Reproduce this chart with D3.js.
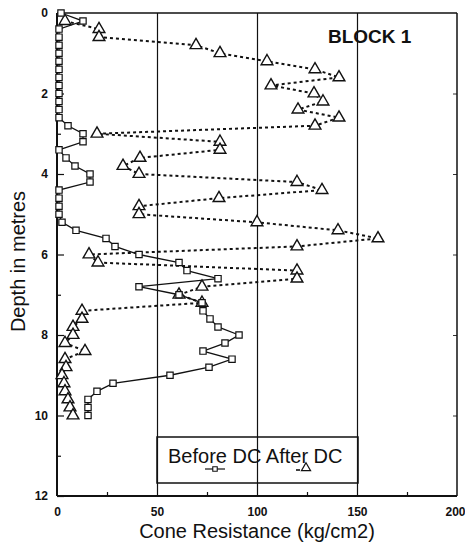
<!DOCTYPE html>
<html>
<head>
<meta charset="utf-8">
<script src="https://cdn.jsdelivr.net/npm/d3@7"></script>
<style>
  html, body { margin: 0; padding: 0; background: #fff; }
  svg { display: block; font-family: "Liberation Sans", Arial, Helvetica, sans-serif; }
</style>
</head>
<body>
<svg id="chart" width="465" height="546"></svg>
<script>
// ---- data ----
const beforeDepth = [0.0, 0.2, 0.4, 0.6, 0.8, 1.0, 1.2, 1.4, 1.6, 1.8, 2.0, 2.2, 2.4, 2.6, 2.8, 3.0, 3.2, 3.4, 3.6, 3.8,
  4.0, 4.2, 4.4, 4.6, 4.8, 5.0, 5.2, 5.4, 5.6, 5.8, 6.0, 6.2, 6.4, 6.6, 6.8, 7.0, 7.2, 7.4, 7.6, 7.8,
  8.0, 8.2, 8.4, 8.6, 8.8, 9.0, 9.2, 9.4, 9.6, 9.8, 10.0];
const beforeCone = [2, 13, 1, 1, 1, 1, 1, 1, 1, 1, 1, 1, 1, 1, 5.5, 13, 13, 1, 4.5, 9,
  16.5, 16.5, 1, 1, 1, 1, 2.5, 9.5, 24.5, 29, 41, 61, 65, 80.5, 41, 61, 72.5, 73, 76.5, 80.5,
  91, 84, 73, 87.5, 76, 56.5, 28, 20, 15.5, 15.5, 15.5];

const afterDepth = [0.2, 0.4, 0.6, 0.8, 1.0, 1.2, 1.4, 1.6, 1.8, 2.0, 2.2, 2.4, 2.6, 2.8, 3.0, 3.2, 3.4, 3.6, 3.8,
  4.0, 4.2, 4.4, 4.6, 4.8, 5.0, 5.2, 5.4, 5.6, 5.8, 6.0, 6.2, 6.4, 6.6, 6.8, 7.0, 7.2, 7.4, 7.6, 7.8,
  8.0, 8.2, 8.4, 8.6, 8.8, 9.0, 9.2, 9.4, 9.6, 9.8, 10.0];
const afterCone = [4, 21, 21, 69.5, 81.5, 105, 129, 141, 107, 128.5, 133, 120.5, 141, 129, 20, 81.5, 81.5, 41.5, 33,
  41, 120, 132.5, 81, 41, 41, 100, 140.5, 160.5, 120, 16, 20.5, 120, 120, 72.5, 61, 72.5, 12.5, 12.5, 8,
  8, 4, 14, 4, 4.5, 2.5, 3.5, 4, 5.5, 6.5, 8];

const xTicks = [0, 50, 100, 150, 200];
const xMinorTicks = [25, 75, 125, 175];
const yTicks = [0, 2, 4, 6, 8, 10, 12];
const yMinorTicks = [1, 3, 5, 7, 9, 11];
const gridValues = [50, 100, 150];
const seriesNames = ["Before DC", "After DC"];
const titleText = "BLOCK 1";
const xTitle = "Cone Resistance (kg/cm2)";
const yTitle = "Depth in metres";

// ---- layout ----
const L = 57, R = 457, T = 13, B = 496;
const svg = d3.select("#chart");
const x = d3.scaleLinear().domain([0, 200]).range([L, R]);
const y = d3.scaleLinear().domain([0, 12]).range([T, B]);

// gridlines
svg.append("g").attr("transform", `translate(0,${B})`)
  .call(d3.axisBottom(x).tickValues(gridValues).tickSize(-(B - T)).tickFormat(""))
  .call(g => g.select(".domain").remove())
  .call(g => g.selectAll("line").attr("stroke", "#111").attr("stroke-width", 1.2));

// bottom axis labels
svg.append("g").attr("transform", `translate(0,${B})`)
  .call(d3.axisBottom(x).tickValues(xTicks).tickSize(0).tickPadding(11).tickFormat(d3.format("d")))
  .call(g => g.select(".domain").remove())
  .call(g => g.selectAll("text").attr("font-size", 12).attr("font-weight", "bold").attr("fill", "#111")
    .attr("font-family", "'Liberation Sans', Arial, sans-serif"))
  .call(g => g.selectAll(".tick").filter(d => d === 200).select("text").attr("dx", -2));

// bottom minor ticks
svg.append("g").attr("transform", `translate(0,${B})`)
  .call(d3.axisBottom(x).tickValues(xMinorTicks).tickSize(-4).tickFormat(""))
  .call(g => g.select(".domain").remove())
  .call(g => g.selectAll("line").attr("stroke", "#111").attr("stroke-width", 1.2));

// left axis
svg.append("g").attr("transform", `translate(${L},0)`)
  .call(d3.axisLeft(y).tickValues(yTicks).tickSizeInner(-7).tickSizeOuter(0).tickPadding(9).tickFormat(d3.format("d")))
  .call(g => g.select(".domain").remove())
  .call(g => g.selectAll("line").attr("stroke", "#111").attr("stroke-width", 1.2))
  .call(g => g.selectAll("text").attr("font-size", 12).attr("font-weight", "bold").attr("fill", "#111")
    .attr("font-family", "'Liberation Sans', Arial, sans-serif"));

svg.append("g").attr("transform", `translate(${L},0)`)
  .call(d3.axisLeft(y).tickValues(yMinorTicks).tickSizeInner(-4).tickSizeOuter(0).tickFormat(""))
  .call(g => g.select(".domain").remove())
  .call(g => g.selectAll("line").attr("stroke", "#111").attr("stroke-width", 1.2));

// right axis ticks
svg.append("g").attr("transform", `translate(${R},0)`)
  .call(d3.axisRight(y).tickValues(yTicks.slice(1, -1)).tickSizeInner(-4).tickSizeOuter(0).tickFormat(""))
  .call(g => g.select(".domain").remove())
  .call(g => g.selectAll("line").attr("stroke", "#333").attr("stroke-width", 1));

// frame
svg.append("line").attr("x1", L).attr("x2", R).attr("y1", T).attr("y2", T).attr("stroke", "#111").attr("stroke-width", 1.5);
svg.append("line").attr("x1", R).attr("x2", R).attr("y1", T).attr("y2", B).attr("stroke", "#111").attr("stroke-width", 1.5);
svg.append("line").attr("x1", L).attr("x2", R).attr("y1", B).attr("y2", B).attr("stroke", "#111").attr("stroke-width", 2);
svg.append("line").attr("x1", L).attr("x2", L).attr("y1", T).attr("y2", B).attr("stroke", "#111").attr("stroke-width", 2);

// series
const before = beforeDepth.map((d, i) => ({ d, v: beforeCone[i] }));
const after = afterDepth.map((d, i) => ({ d, v: afterCone[i] }));
const line = d3.line().x(p => x(p.v)).y(p => y(p.d));

svg.append("path").datum(after).attr("d", line)
  .attr("fill", "none").attr("stroke", "#111").attr("stroke-width", 2).attr("stroke-dasharray", "3,3");
svg.append("path").datum(before).attr("d", line)
  .attr("fill", "none").attr("stroke", "#111").attr("stroke-width", 1.3);

const tri = d3.symbol().type(d3.symbolTriangle).size(60);
const sq = d3.symbol().type(d3.symbolSquare).size(40);

svg.append("g").selectAll("path").data(after).join("path")
  .attr("d", tri).attr("transform", p => `translate(${x(p.v)},${y(p.d)})`)
  .attr("fill", "#fff").attr("stroke", "#111").attr("stroke-width", 1.4);
svg.append("g").selectAll("path").data(before).join("path")
  .attr("d", sq).attr("transform", p => `translate(${x(p.v)},${y(p.d)})`)
  .attr("fill", "#fff").attr("stroke", "#111").attr("stroke-width", 1.2);

// title
svg.append("text").attr("x", 328).attr("y", 43).attr("font-size", 19).attr("font-weight", "bold")
  .attr("fill", "#111").text(titleText);

// axis titles
svg.append("text").attr("x", (L + R) / 2).attr("y", 538).attr("text-anchor", "middle")
  .attr("font-size", 20).attr("fill", "#111").text(xTitle);
svg.append("text").attr("transform", `translate(25,${(T + B) / 2 + 7}) rotate(-90)`).attr("text-anchor", "middle")
  .attr("font-size", 20).attr("fill", "#111").text(yTitle);

// legend
const lg = svg.append("g");
lg.append("rect").attr("x", 157).attr("y", 437).attr("width", 201).attr("height", 46)
  .attr("fill", "none").attr("stroke", "#111").attr("stroke-width", 1.5);
lg.append("text").attr("x", 168).attr("y", 463).attr("font-size", 20).attr("fill", "#111")
  .text(seriesNames[0] + " " + seriesNames[1]);
lg.append("line").attr("x1", 205).attr("x2", 225).attr("y1", 469).attr("y2", 469).attr("stroke", "#111").attr("stroke-width", 1.2);
lg.append("path").attr("d", d3.symbol().type(d3.symbolSquare).size(20)).attr("transform", "translate(215,469)")
  .attr("fill", "#fff").attr("stroke", "#111").attr("stroke-width", 1.1);
lg.append("line").attr("x1", 296).attr("x2", 300).attr("y1", 470).attr("y2", 470).attr("stroke", "#111").attr("stroke-width", 1.6);
lg.append("path").attr("d", d3.symbol().type(d3.symbolTriangle).size(36)).attr("transform", "translate(306,468)")
  .attr("fill", "#fff").attr("stroke", "#111").attr("stroke-width", 1.2);
</script>
</body>
</html>
